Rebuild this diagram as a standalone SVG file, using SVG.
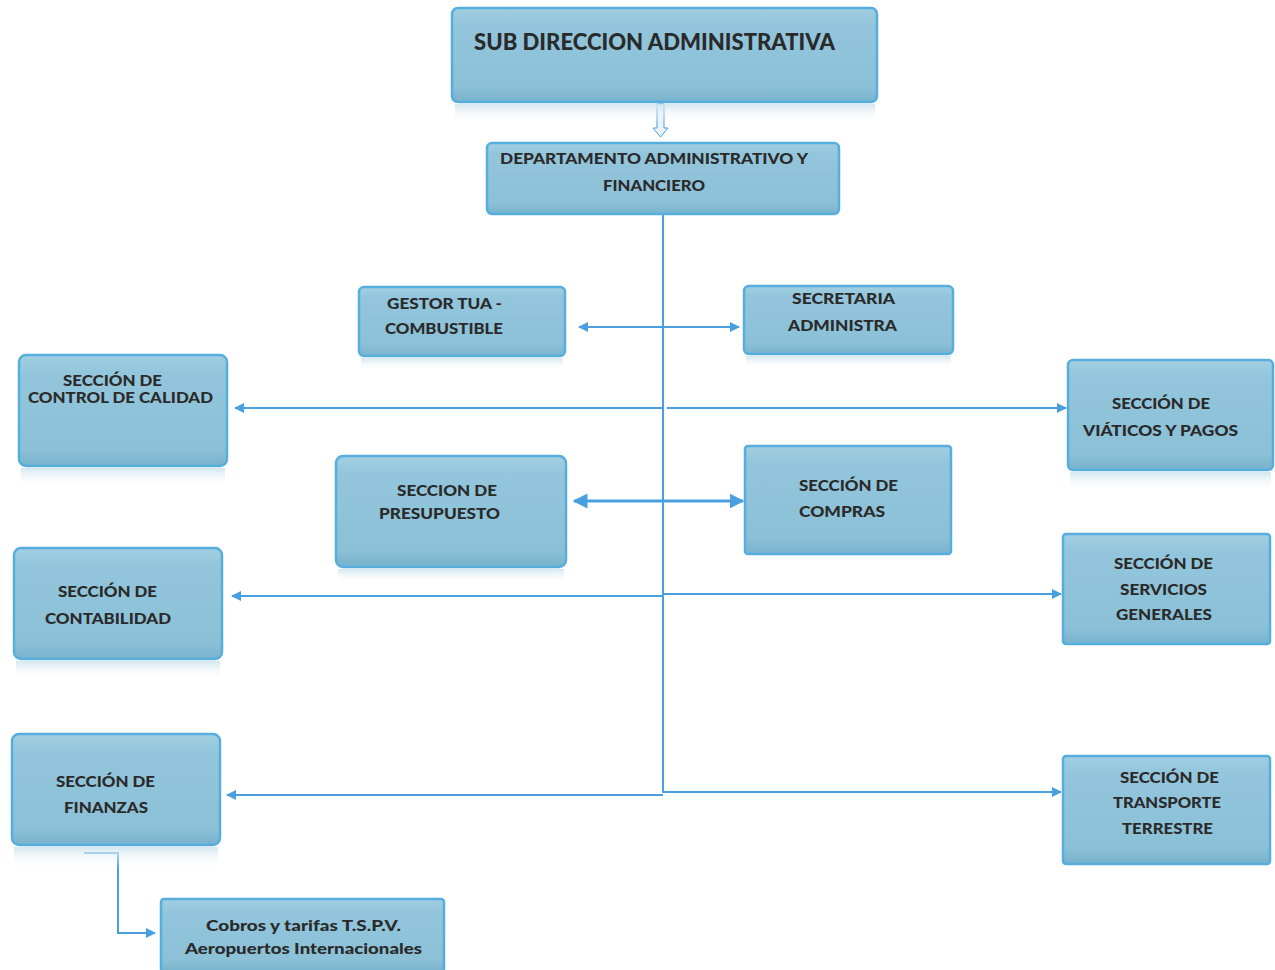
<svg xmlns="http://www.w3.org/2000/svg" width="1275" height="970" viewBox="0 0 1275 970">
<style>
.box{fill:url(#g);stroke:#56aede;stroke-width:2.5}
.refl{fill:url(#r)}
.t{font-family:Lato,"Open Sans","Liberation Sans",sans-serif;font-weight:900;font-size:15px;fill:#2a2a2a}
.tt{font-size:22px}
.ln{stroke:#4a9fe0;stroke-width:2;fill:none}
</style>
<defs>
<linearGradient id="g" x1="0" y1="0" x2="0" y2="1">
<stop offset="0" stop-color="#a3cfe1"/>
<stop offset="0.15" stop-color="#93c6dc"/>
<stop offset="0.85" stop-color="#8bc0d7"/>
<stop offset="1" stop-color="#78b2cc"/>
</linearGradient>
<linearGradient id="r" x1="0" y1="0" x2="0" y2="1">
<stop offset="0" stop-color="#cfe4ee" stop-opacity="0.9"/>
<stop offset="1" stop-color="#ffffff" stop-opacity="0"/>
</linearGradient>
<marker id="a" viewBox="0 0 10 10" refX="9" refY="5" markerWidth="5" markerHeight="5" orient="auto-start-reverse">
<path d="M0,0 L10,5 L0,10 z" fill="#4a9fe0"/>
</marker>
</defs>
<rect width="1275" height="970" fill="#fff"/>
<g id="connectors">
<path class="ln" d="M663,214 V793"/>
<path d="M657,104 h7 v24 h4 l-7.5,9 l-7.5,-9 h4 z" fill="#e8f2f8" stroke="#4a9fe0" stroke-width="1"/>
<path class="ln" d="M579,327 H739" marker-start="url(#a)" marker-end="url(#a)"/>
<path class="ln" d="M663,408 H235" marker-end="url(#a)"/>
<path class="ln" d="M667,408 H1066" marker-end="url(#a)"/>
<path class="ln" style="stroke-width:3" d="M574,501 H743" marker-start="url(#a)" marker-end="url(#a)"/>
<path class="ln" d="M663,596 H232" marker-end="url(#a)"/>
<path class="ln" d="M663,594 H1061" marker-end="url(#a)"/>
<path class="ln" d="M663,795 H227" marker-end="url(#a)"/>
<path class="ln" d="M663,792 H1061" marker-end="url(#a)"/>
<path class="ln" d="M84,853 H118 V933 H155" marker-end="url(#a)"/>
</g>
<g id="n-sub">
<rect class="refl" x="455" y="104" width="420" height="18"/>
<rect class="box" x="452" y="8" width="425" height="94" rx="6"/>
<text class="t tt" x="474" y="50" textLength="361" lengthAdjust="spacingAndGlyphs">SUB DIRECCION ADMINISTRATIVA</text>
</g>
<g id="n-dep">
<rect class="box" x="487" y="143" width="352" height="71" rx="5"/>
<text class="t" x="500" y="164" textLength="308" lengthAdjust="spacingAndGlyphs">DEPARTAMENTO ADMINISTRATIVO Y</text>
<text class="t" x="603" y="191" textLength="102" lengthAdjust="spacingAndGlyphs">FINANCIERO</text>
</g>
<g id="n-gestor">
<rect class="refl" x="361" y="358" width="202" height="12"/>
<rect class="box" x="359" y="287" width="206" height="69" rx="5"/>
<text class="t" x="387" y="309" textLength="115" lengthAdjust="spacingAndGlyphs">GESTOR TUA -</text>
<text class="t" x="385" y="334" textLength="118" lengthAdjust="spacingAndGlyphs">COMBUSTIBLE</text>
</g>
<g id="n-secretaria">
<rect class="refl" x="746" y="356" width="205" height="12"/>
<rect class="box" x="744" y="286" width="209" height="68" rx="5"/>
<text class="t" x="792" y="304" textLength="103" lengthAdjust="spacingAndGlyphs">SECRETARIA</text>
<text class="t" x="788" y="331" textLength="109" lengthAdjust="spacingAndGlyphs">ADMINISTRA</text>
</g>
<g id="n-calidad">
<rect class="refl" x="21" y="468" width="204" height="20"/>
<rect class="box" x="19" y="355" width="208" height="111" rx="7"/>
<text class="t" x="63" y="386" textLength="99" lengthAdjust="spacingAndGlyphs">SECCIÓN DE</text>
<text class="t" x="28" y="403" textLength="185" lengthAdjust="spacingAndGlyphs">CONTROL DE CALIDAD</text>
</g>
<g id="n-viaticos">
<rect class="refl" x="1070" y="472" width="201" height="20"/>
<rect class="box" x="1068" y="360" width="205" height="110" rx="5"/>
<text class="t" x="1112" y="409" textLength="98" lengthAdjust="spacingAndGlyphs">SECCIÓN DE</text>
<text class="t" x="1083" y="436" textLength="155" lengthAdjust="spacingAndGlyphs">VIÁTICOS Y PAGOS</text>
</g>
<g id="n-presupuesto">
<rect class="refl" x="338" y="569" width="226" height="14"/>
<rect class="box" x="336" y="456" width="230" height="111" rx="7"/>
<text class="t" x="397" y="496" textLength="100" lengthAdjust="spacingAndGlyphs">SECCION DE</text>
<text class="t" x="379" y="519" textLength="121" lengthAdjust="spacingAndGlyphs">PRESUPUESTO</text>
</g>
<g id="n-compras">
<rect class="box" x="745" y="446" width="206" height="108" rx="3"/>
<text class="t" x="799" y="491" textLength="99" lengthAdjust="spacingAndGlyphs">SECCIÓN DE</text>
<text class="t" x="799" y="517" textLength="86" lengthAdjust="spacingAndGlyphs">COMPRAS</text>
</g>
<g id="n-contabilidad">
<rect class="refl" x="16" y="661" width="204" height="20"/>
<rect class="box" x="14" y="548" width="208" height="111" rx="7"/>
<text class="t" x="58" y="597" textLength="99" lengthAdjust="spacingAndGlyphs">SECCIÓN DE</text>
<text class="t" x="45" y="624" textLength="126" lengthAdjust="spacingAndGlyphs">CONTABILIDAD</text>
</g>
<g id="n-servicios">
<rect class="box" x="1063" y="534" width="207" height="110" rx="3"/>
<text class="t" x="1114" y="569" textLength="99" lengthAdjust="spacingAndGlyphs">SECCIÓN DE</text>
<text class="t" x="1120" y="595" textLength="87" lengthAdjust="spacingAndGlyphs">SERVICIOS</text>
<text class="t" x="1116" y="620" textLength="96" lengthAdjust="spacingAndGlyphs">GENERALES</text>
</g>
<g id="n-finanzas">
<rect class="refl" x="14" y="847" width="204" height="22"/>
<rect class="box" x="12" y="734" width="208" height="111" rx="7"/>
<text class="t" x="56" y="787" textLength="99" lengthAdjust="spacingAndGlyphs">SECCIÓN DE</text>
<text class="t" x="64" y="813" textLength="84" lengthAdjust="spacingAndGlyphs">FINANZAS</text>
</g>
<g id="n-transporte">
<rect class="box" x="1063" y="756" width="207" height="108" rx="3"/>
<text class="t" x="1120" y="783" textLength="99" lengthAdjust="spacingAndGlyphs">SECCIÓN DE</text>
<text class="t" x="1113" y="808" textLength="108" lengthAdjust="spacingAndGlyphs">TRANSPORTE</text>
<text class="t" x="1122" y="834" textLength="91" lengthAdjust="spacingAndGlyphs">TERRESTRE</text>
</g>
<g id="n-cobros">
<rect class="box" x="161" y="899" width="283" height="73" rx="3"/>
<text class="t" x="206" y="931" textLength="195" lengthAdjust="spacingAndGlyphs">Cobros y tarifas T.S.P.V.</text>
<text class="t" x="185" y="954" textLength="237" lengthAdjust="spacingAndGlyphs">Aeropuertos Internacionales</text>
</g>
</svg>
